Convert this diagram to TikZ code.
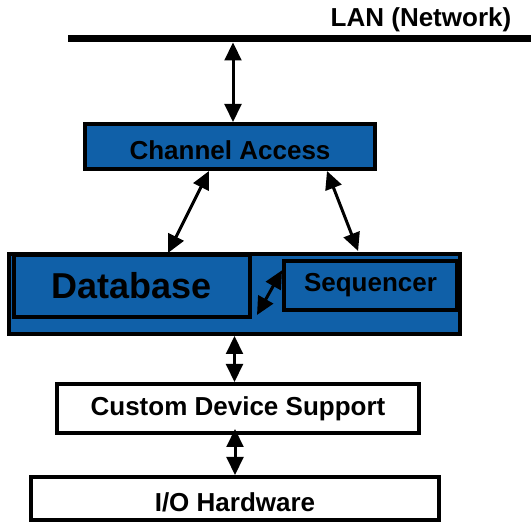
\documentclass[tikz,border=0pt]{standalone}
\usepackage{fontspec}
\setmainfont{Liberation Sans}
\usepackage[HTML]{xcolor}
\usepackage{tikz}
\usetikzlibrary{positioning, arrows.meta}
\usetikzlibrary{calc}
\definecolor{epicsblue}{HTML}{1060A8}

\begin{document}
\begin{tikzpicture}[scale=1.0,
  bluebox/.style={draw,line width=0.1cm,fill=epicsblue,inner sep=0pt,
    font=\fontsize{18.5}{20}\selectfont\bfseries},
  whitebox/.style={draw,line width=0.1cm,fill=white,inner sep=0pt,
    font=\fontsize{18.5}{20}\selectfont\bfseries},
  dbl/.style={line width=0.075cm,
    {Triangle[length=0.45cm,width=0.42cm]}-{Triangle[length=0.45cm,width=0.42cm]}}]
\useasboundingbox (0,0) rectangle (13.275,13.075);
% network line
\coordinate (lanL) at (1.7,12.1);
\coordinate (lanR) at (13.4,12.1);
\coordinate (lan) at (5.825,12.0125);
\draw[line width=0.175cm] (lanL)--(lanR);
\node[font=\fontsize{18.5}{20}\selectfont\bfseries] (lanlabel) at (10.525,12.575) {LAN (Network)};

% boxes
\node[bluebox,minimum width=7.25cm,minimum height=1.125cm,text height=0.67cm] (ca) at (5.75,9.4125) {Channel Access};
\node[bluebox,minimum width=11.275cm,minimum height=2.0cm] (core) at (5.8625,5.725) {};
\node[bluebox,minimum width=5.9cm,minimum height=1.55cm,
  font=\fontsize{25.6}{28}\selectfont\bfseries] (db) at (3.3,5.925) {Database};
\node[bluebox,minimum width=4.325cm,minimum height=1.225cm] (seq) at (9.2625,5.9375) {Sequencer};
\node[whitebox,minimum width=9.05cm,minimum height=1.225cm] (cds) at (5.95,2.8625) {Custom Device Support};
\node[whitebox,minimum width=10.2cm,minimum height=1.075cm,text height=0.65cm] (io) at (5.875,0.6125) {I/O Hardware};

% connections
\draw[dbl] (lan)--(lan |- ca.north);
\draw[dbl] ($(ca.south)+(-0.525,0)$)--($(db.north)+(0.9,0)$);
\draw[dbl] ($(ca.south)+(2.425,0)$)--($(seq.north)+(-0.31,0.2)$);
\draw[dbl] ($(db.south east)+(0.125,0.1)$)--($(seq.west)+(0,0.38)$);
\draw[dbl] (core.south)--(core.south |- cds.north);
\draw[dbl] ($(io.north |- cds.south)+(0,0.15)$)--(io.north);
\end{tikzpicture}
\end{document}
